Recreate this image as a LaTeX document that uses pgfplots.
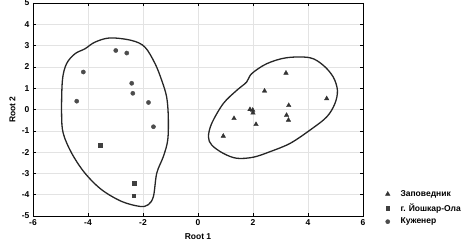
\documentclass[border=0pt]{standalone}
\usepackage{fontspec}
\setmainfont{Liberation Sans}
\usepackage{pgfplots}
\pgfplotsset{compat=1.18}
\begin{document}
\begin{tikzpicture}
\begin{axis}[
  scale only axis, width=330pt, height=213pt,
  xmin=-6, xmax=6, ymin=-5, ymax=5,
  xtick={-6,-4,...,6}, ytick={-5,-4,...,5},
  grid=major, major grid style={gray!22, line width=0.5pt},
  axis line style={black, line width=0.8pt},
  tick style={black, line width=0.5pt}, tick align=inside,
  major tick length=3pt,
  /pgf/number format/assume math mode=true,
  tick label style={font=\bfseries\fontsize{8.5}{10}\selectfont},
  xlabel={Root 1}, ylabel={Root 2},
  label style={font=\bfseries\fontsize{8.5}{10}\selectfont},
  xlabel style={at={(axis description cs:0.5,0)}, anchor=north, yshift=-14pt},
  ylabel style={at={(axis description cs:0,0.5)}, anchor=south, xshift=0pt, yshift=14pt},
  legend style={at={(1.055,0.14)}, anchor=north west, draw=none, fill=none,
    font=\bfseries\fontsize{8.5}{10}\selectfont, row sep=1.5pt,
    legend cell align=left},
  legend image code/.code={\path[draw=none,fill=none] (-0.12cm,-0.01cm) rectangle (0.38cm,0.01cm);\draw[#1] plot coordinates {(0cm,0cm)};},
]
\addplot[only marks, mark=triangle*, mark size=2.6pt, color=black!80] coordinates {
(0.92,-1.25) (1.31,-0.42) (1.89,0.0) (1.99,-0.03) (2.0,-0.16) (2.11,-0.70)
(2.42,0.87) (3.2,1.71) (3.30,0.19) (3.22,-0.27) (3.29,-0.50) (4.68,0.51)};
\addlegendentry{Заповедник}
\addplot[only marks, mark=square*, mark size=1.8pt, color=black!75] coordinates {
(-3.56,-1.67) (-2.33,-3.47) (-2.34,-4.05)};
\addlegendentry{г. Йошкар-Ола}
\addplot[only marks, mark=*, mark size=2.1pt, color=black!70] coordinates {
(-4.17,1.76) (-4.41,0.39) (-2.99,2.77) (-2.59,2.65) (-2.41,1.23) (-2.37,0.76)
(-1.80,0.33) (-1.62,-0.81)};
\addlegendentry{Куженер}
\addplot[forget plot, smooth cycle, tension=0.55, black!85, line width=1.3pt] coordinates {
(-3.2,3.36) (-2.41,3.24) (-1.93,2.93) (-1.56,2.15) (-1.32,1.37) (-1.14,0.59)
(-1.08,-0.35) (-1.10,-1.43) (-1.26,-2.21) (-1.50,-2.99) (-1.62,-4.08) (-1.81,-4.47)
(-2.11,-4.55) (-2.77,-4.32) (-3.50,-3.77) (-4.11,-2.99) (-4.59,-2.06) (-4.90,-1.12)
(-4.96,-0.19) (-4.93,1.37) (-4.78,2.15) (-4.47,2.62) (-4.11,2.85) (-3.75,3.16)};
\addplot[forget plot, smooth cycle, tension=0.55, black!85, line width=1.3pt] coordinates {
(0.38,-1.28) (0.50,-0.65) (0.92,0.28) (1.41,0.90) (1.77,1.29) (1.95,1.68)
(2.50,2.15) (3.22,2.43) (4.07,2.43) (4.56,2.07) (4.92,1.52) (5.07,0.90)
(4.98,0.28) (4.68,-0.35) (4.07,-0.97) (3.35,-1.59) (2.62,-1.98) (2.01,-2.24)
(1.41,-2.29) (0.92,-2.06) (0.50,-1.67)};
\end{axis}
\pgfresetboundingbox
\path (current axis.south west) +(-33pt,-32pt) rectangle +(439pt,216pt);
\end{tikzpicture}
\end{document}
